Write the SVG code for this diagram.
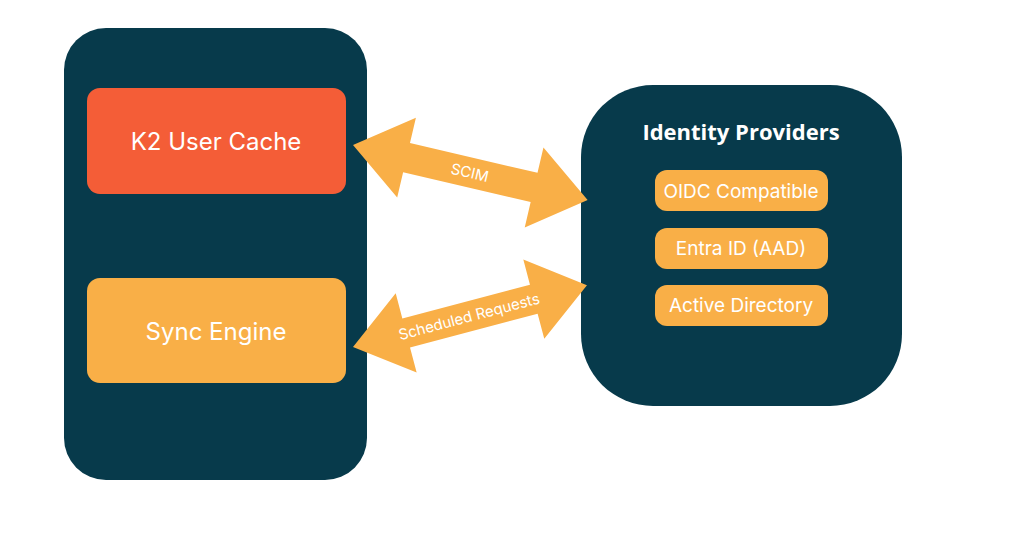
<svg xmlns="http://www.w3.org/2000/svg" width="1024" height="535" viewBox="0 0 1024 535">
<style>
.panel{fill:#073A4B}
.red{fill:#F45D37}
.yel{fill:#F9AF47}
.big{font-family:Inter,"Noto Sans",sans-serif;font-size:24px;fill:#fff;text-anchor:middle;dominant-baseline:central}
.sub{font-family:Inter,"Noto Sans",sans-serif;font-size:19px;fill:#fff;text-anchor:middle;dominant-baseline:central}
.hd{font-family:"Open Sans","Noto Sans",sans-serif;font-weight:700;font-size:22px;fill:#fff;text-anchor:middle;dominant-baseline:central}
.lbl{font-family:Inter,"Noto Sans",sans-serif;font-size:15px;fill:#fff;text-anchor:middle;dominant-baseline:central}
</style>
<rect width="1024" height="535" fill="#fff"/>
<g id="k2">
<rect class="panel" x="64" y="28" width="303" height="452" rx="42"/>
</g>
<g id="cache">
<rect class="red" x="87" y="88" width="259" height="106" rx="13"/>
<text class="big" x="216" y="141">K2 User Cache</text>
</g>
<g id="sync">
<rect class="yel" x="87" y="278" width="259" height="105" rx="13"/>
<text class="big" x="216" y="331">Sync Engine</text>
</g>
<g id="idp">
<rect class="panel" x="581" y="85" width="321" height="321" rx="72"/>
<text class="hd" x="741" y="131">Identity Providers</text>
</g>
<g id="oidc">
<rect class="yel" x="655" y="170" width="173" height="41" rx="12"/>
<text class="sub" x="741" y="191">OIDC Compatible</text>
</g>
<g id="entra">
<rect class="yel" x="655" y="228" width="173" height="41" rx="12"/>
<text class="sub" x="741" y="248">Entra ID (AAD)</text>
</g>
<g id="ad">
<rect class="yel" x="655" y="285" width="173" height="41" rx="12"/>
<text class="sub" x="741" y="305">Active Directory</text>
</g>
<g id="connectors">
<g transform="translate(353,145) rotate(13.2)">
<path class="yel" d="M0,0 L55,-41 L55,-15 L186,-15 L186,-41 L241,0 L186,41 L186,15 L55,15 L55,41 Z"/>
<text class="lbl" x="120" y="0">SCIM</text>
</g>
<g transform="translate(353,347) rotate(-14.8)">
<path class="yel" d="M0,0 L55,-41 L55,-15 L187,-15 L187,-41 L242,0 L187,41 L187,15 L55,15 L55,41 Z"/>
<text class="lbl" x="120" y="0">Scheduled Requests</text>
</g>
</g>
</svg>
